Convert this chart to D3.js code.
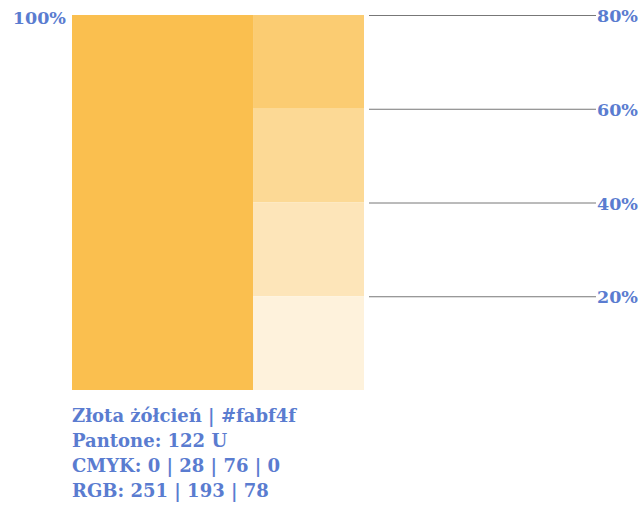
<!DOCTYPE html>
<html><head><meta charset="utf-8">
<script src="https://cdn.jsdelivr.net/npm/d3@7"></script>
<style>body{margin:0;background:#fff}svg{display:block}</style>
</head><body>
<script>
const baseColor = "#fabf4f";
const tints = [0.8, 0.6, 0.4, 0.2];
const tintLabels = ["80%", "60%", "40%", "20%"];
const fullLabel = "100%";
const infoLines = ["Złota żółcień | #fabf4f", "Pantone: 122 U", "CMYK: 0 | 28 | 76 | 0", "RGB: 251 | 193 | 78"];

const W = 642, H = 505;
const txtColor = "#5a7cd0";
const font = "'DejaVu Serif', serif";
const svg = d3.select("body").append("svg").attr("width", W).attr("height", H);

const y = d3.scaleBand().domain(tints).range([15, 390]).padding(0);
const x = d3.scaleLinear().domain([0, 1]).range([72, 364]);
const split = 0.62;

svg.append("rect").attr("x", x(0)).attr("y", 15).attr("width", x(split) - x(0)).attr("height", 375).attr("fill", baseColor);

const white = d3.rgb("#fff"), base = d3.rgb(baseColor);
const mix = t => d3.interpolateRgb(white, base)(t);

svg.selectAll("rect.tint").data(tints).join("rect").attr("class", "tint")
  .attr("x", x(split)).attr("y", d => y(d)).attr("width", x(1) - x(split)).attr("height", y.bandwidth())
  .attr("fill", d => mix(d));

svg.selectAll("line.g").data(tints).join("line").attr("class", "g")
  .attr("x1", 369).attr("x2", 596).attr("y1", d => y(d) + 0.5).attr("y2", d => y(d) + 0.5)
  .attr("stroke", "#777").attr("stroke-width", 1);

svg.selectAll("text.tl").data(tints).join("text").attr("class", "tl")
  .attr("x", 638).attr("y", d => y(d) + 7).attr("text-anchor", "end")
  .attr("font-family", font).attr("font-weight", "bold").attr("font-size", 17.5).attr("fill", txtColor)
  .text((d, i) => tintLabels[i]);

svg.append("text").attr("x", 66).attr("y", 24).attr("text-anchor", "end")
  .attr("font-family", font).attr("font-weight", "bold").attr("font-size", 17.5).attr("fill", txtColor)
  .text(fullLabel);

svg.selectAll("text.info").data(infoLines).join("text").attr("class", "info")
  .attr("x", 72).attr("y", (d, i) => 422 + i * 25)
  .attr("font-family", font).attr("font-weight", "bold").attr("font-size", 18).attr("fill", txtColor)
  .text(d => d);
</script>
</body></html>
